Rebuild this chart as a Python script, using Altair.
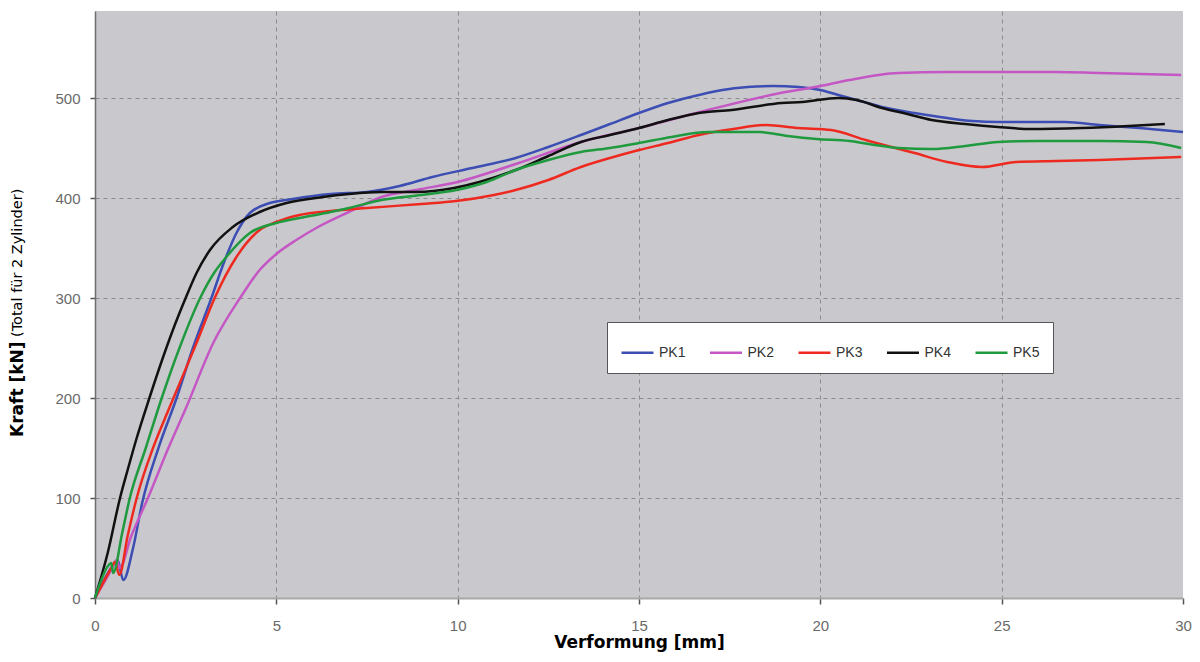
import altair as alt
import pandas as pd

series_names = ["PK1", "PK2", "PK3", "PK4", "PK5"]
series_colors = ["#3c4db3", "#c457c4", "#ee2a20", "#111111", "#1f9a3e"]

pk1_x = [0, 0.5, 0.62, 0.78, 1.05, 1.3, 1.75, 2.25, 2.7, 3.21, 3.55, 3.9, 4.27, 4.82, 5.45, 6.5, 7.5, 8.4, 9.3, 10.4, 11.6, 12.5, 13.4, 14.2, 15.0, 15.8, 16.65, 17.3, 18.0, 18.7, 19.4, 20.0, 20.5, 21.1, 21.7, 22.6, 23.5, 24.2, 24.9, 25.8, 26.75, 27.7, 28.8, 30.0]
pk1_y = [0, 33, 38, 18, 50, 95, 150, 200, 250, 300, 335, 365, 385, 395, 399, 404, 406, 412, 421, 430, 440, 451, 463, 474, 485, 495, 503, 508, 511, 512, 511, 508, 503, 497, 491, 485, 480, 477, 476, 476, 476, 473, 470, 466]

pk2_x = [0, 0.45, 0.6, 0.68, 1.0, 1.46, 2.0, 2.52, 3.26, 4.0, 4.54, 5.0, 5.55, 6.1, 7.0, 7.9, 9.0, 10.0, 11.6, 13.4, 15.0, 16.9, 18.9, 20.0, 20.8, 22.15, 23.5, 24.9, 26.5, 27.7, 29.95]
pk2_y = [0, 28, 38, 30, 62, 100, 148, 191, 255, 300, 328, 344, 358, 370, 386, 401, 409, 416, 434, 456, 470, 488, 505, 512, 518, 525, 526, 526, 526, 525, 523]

pk3_x = [0, 0.45, 0.55, 0.67, 0.9, 1.15, 1.6, 2.06, 2.8, 3.3, 3.9, 4.54, 5.0, 5.64, 6.5, 7.5, 9.0, 9.96, 11.0, 11.6, 12.5, 13.4, 14.2, 15.0, 15.8, 16.65, 17.6, 18.5, 19.4, 20.3, 21.25, 22.6, 23.5, 24.45, 25.4, 26.5, 27.7, 29.95]
pk3_y = [0, 30, 36, 23, 62, 100, 150, 191, 255, 300, 341, 368, 376, 383, 387, 390, 394, 397, 403, 408, 418, 431, 440, 448, 455, 463, 469, 473, 470, 468, 458, 445, 436, 431, 436, 437, 438, 441]

pk4_x = [0, 0.35, 0.69, 0.9, 1.15, 1.5, 1.85, 2.2, 2.5, 2.8, 3.17, 3.8, 4.54, 5.28, 6.28, 7.0, 7.9, 8.85, 9.9, 10.6, 11.6, 12.5, 13.4, 14.2, 15.0, 15.8, 16.65, 17.56, 18.94, 19.5, 20.5, 21.0, 21.7, 22.4, 23.07, 24.0, 24.9, 25.8, 27.2, 28.5, 29.5]
pk4_y = [0, 45, 100, 128, 160, 200, 238, 273, 300, 325, 348, 371, 386, 395, 401, 404, 406, 406, 410, 416, 428, 442, 456, 463, 470, 478, 485, 488, 495, 496, 500, 498, 490, 484, 478, 474, 471, 469, 470, 472, 474]

pk5_x = [0, 0.38, 0.45, 0.5, 0.75, 0.96, 1.4, 1.84, 2.35, 2.9, 3.3, 3.62, 4.27, 5.0, 5.64, 6.5, 7.0, 7.9, 9.0, 9.96, 10.8, 11.6, 12.5, 13.4, 14.2, 15.0, 15.9, 16.9, 17.6, 18.3, 19.1, 19.9, 20.8, 21.5, 22.15, 23.07, 24.0, 24.9, 26.0, 27.7, 29.0, 29.95]
pk5_y = [0, 33, 35, 25, 65, 100, 150, 200, 252, 300, 326, 341, 365, 375, 380, 386, 390, 398, 403, 408, 416, 428, 438, 446, 450, 455, 461, 466, 466, 466, 462, 459, 457, 453, 450, 449, 452, 456, 457, 457, 456, 450]

x_ticks = [0, 5, 10, 15, 20, 25, 30]
y_ticks = [0, 100, 200, 300, 400, 500]

x_title = "Verformung [mm]"
y_title_bold = ["Kraft [kN]"]
y_title_normal = ["(Total für 2 Zylinder)"]

rows = []
for name, xs, ys in zip(series_names,
                        [pk1_x, pk2_x, pk3_x, pk4_x, pk5_x],
                        [pk1_y, pk2_y, pk3_y, pk4_y, pk5_y]):
    for i, (a, b) in enumerate(zip(xs, ys)):
        rows.append({"serie": name, "x": a, "y": b, "i": i})
df = pd.DataFrame(rows)

lines = alt.Chart(df).mark_line(strokeWidth=2.5, interpolate="monotone").encode(
    x=alt.X("x:Q", scale=alt.Scale(domain=[0, 30], nice=False),
            axis=alt.Axis(values=x_ticks, title=x_title, grid=True,
                          gridDash=[4, 4], gridColor="#8c8c8c", gridWidth=1,
                          gridOpacity={"condition": {"test": "datum.value == 0 || datum.value == 30", "value": 0}, "value": 1},
                          domainColor="#a8a8a8", domainWidth=2,
                          tickColor="#555555", tickSize=6, tickWidth=1.5,
                          labelColor="#6a6a6a", labelFontSize=15, labelFont="Liberation Sans",
                          labelPadding=14, labelFlush=False,
                          titleFont="DejaVu Sans", titleFontSize=17, titleFontWeight="bold",
                          titleColor="#000000", titlePadding=1)),
    y=alt.Y("y:Q", scale=alt.Scale(domain=[0, 587], nice=False),
            axis=alt.Axis(values=y_ticks, title=None, grid=True,
                          gridDash=[4, 4], gridColor="#8c8c8c", gridWidth=1,
                          domainColor="#6e6e6e", domainWidth=1.5,
                          tickColor="#555555", tickSize=5, tickWidth=1.5,
                          labelColor="#6a6a6a", labelFontSize=15, labelFont="Liberation Sans",
                          labelPadding=10)),
    color=alt.Color("serie:N", scale=alt.Scale(domain=series_names, range=series_colors),
                    legend=alt.Legend(title=None, orient="none", legendX=512, legendY=311,
                                      direction="horizontal", symbolType="stroke",
                                      symbolSize=1024, symbolStrokeWidth=2.5,
                                      labelFontSize=14, labelColor="#333333",
                                      labelFont="Liberation Sans", labelOffset=4,
                                      columnPadding=18.5, padding=13,
                                      fillColor="#ffffff", strokeColor="#555555")),
    order="i:Q",
)

t_bold = alt.Chart(pd.DataFrame({"t": y_title_bold})).mark_text(
    angle=270, align="left", baseline="middle", font="DejaVu Sans",
    fontSize=17, fontWeight="bold", color="#000000"
).encode(text="t:N", x=alt.value(-77), y=alt.value(426))

t_norm = alt.Chart(pd.DataFrame({"t": y_title_normal})).mark_text(
    angle=270, align="left", baseline="middle", font="DejaVu Sans",
    fontSize=14.5, color="#000000"
).encode(text="t:N", x=alt.value(-77), y=alt.value(326))

chart = alt.layer(lines, t_bold, t_norm).properties(
    width=1088, height=587,
    autosize=alt.AutoSizeParams(type="none"),
    padding={"left": 87, "top": 3, "right": 9, "bottom": 56},
    background="#ffffff",
).configure_view(fill="#c9c9cd", stroke=None)

chart.save("out.html", embed_options={"renderer": "svg", "actions": False})
